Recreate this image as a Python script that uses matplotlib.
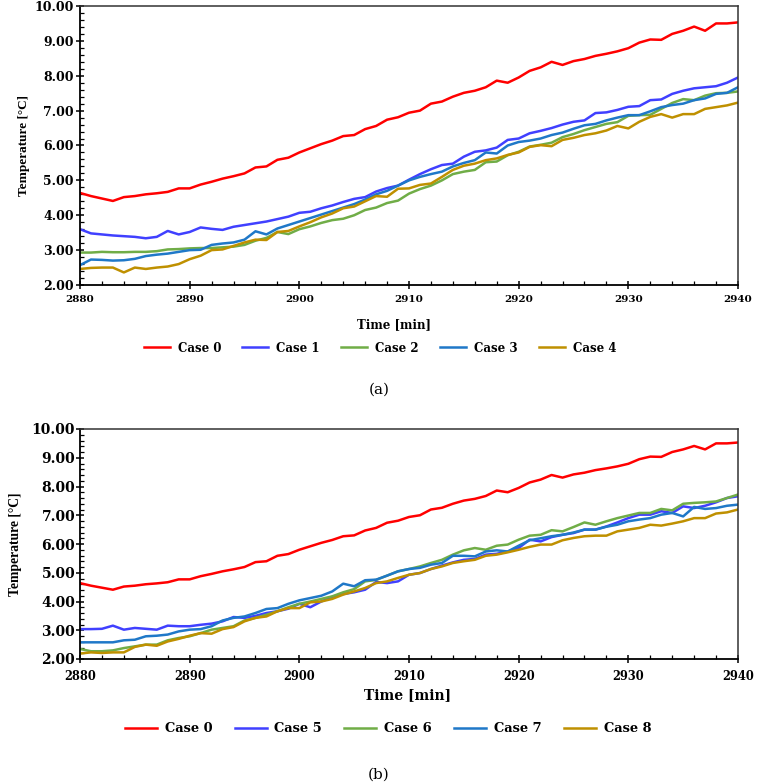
import matplotlib
matplotlib.use('Agg')
import matplotlib.pyplot as plt
from matplotlib.ticker import MultipleLocator, AutoMinorLocator, FormatStrFormatter


minutes = list(range(2880, 2941))

# panel (a)
case0 = [4.64, 4.55, 4.48, 4.41, 4.52, 4.55, 4.60, 4.63, 4.67, 4.77, 4.77,
         4.88, 4.96, 5.05, 5.12, 5.20, 5.37, 5.40, 5.59, 5.65, 5.80,
         5.92, 6.04, 6.14, 6.27, 6.30, 6.47, 6.56, 6.74, 6.81, 6.94,
         7.00, 7.20, 7.26, 7.40, 7.51, 7.57, 7.67, 7.86, 7.80, 7.95,
         8.14, 8.24, 8.40, 8.31, 8.42, 8.48, 8.57, 8.63, 8.70, 8.79,
         8.95, 9.04, 9.03, 9.20, 9.29, 9.41, 9.29, 9.50, 9.50, 9.53]
case1 = [3.60, 3.48, 3.45, 3.42, 3.40, 3.38, 3.34, 3.38, 3.55, 3.45, 3.52,
         3.65, 3.61, 3.58, 3.67, 3.72, 3.77, 3.82, 3.89, 3.96, 4.07,
         4.10, 4.20, 4.28, 4.38, 4.47, 4.52, 4.68, 4.78, 4.85, 5.02,
         5.18, 5.32, 5.44, 5.48, 5.68, 5.82, 5.86, 5.94, 6.16, 6.20,
         6.35, 6.42, 6.50, 6.60, 6.68, 6.72, 6.93, 6.95, 7.02, 7.11,
         7.13, 7.30, 7.32, 7.48, 7.57, 7.64, 7.67, 7.70, 7.80, 7.95]
case2 = [2.93, 2.93, 2.95, 2.94, 2.94, 2.95, 2.95, 2.97, 3.02, 3.03, 3.05,
         3.06, 3.06, 3.08, 3.10, 3.15, 3.27, 3.35, 3.52, 3.46, 3.60,
         3.68, 3.78, 3.86, 3.90, 4.00, 4.15, 4.22, 4.35, 4.42, 4.62,
         4.75, 4.85, 5.00, 5.18, 5.25, 5.30, 5.52, 5.54, 5.72, 5.82,
         5.97, 6.02, 6.08, 6.24, 6.33, 6.44, 6.53, 6.62, 6.67, 6.85,
         6.87, 6.88, 7.05, 7.22, 7.33, 7.30, 7.43, 7.50, 7.51, 7.55]
case3 = [2.57, 2.73, 2.72, 2.70, 2.71, 2.75, 2.83, 2.87, 2.90, 2.95, 3.00,
         3.01, 3.15, 3.19, 3.22, 3.30, 3.54, 3.45, 3.62, 3.72, 3.82,
         3.92, 4.02, 4.12, 4.22, 4.32, 4.45, 4.60, 4.70, 4.85, 5.00,
         5.10, 5.18, 5.25, 5.40, 5.50, 5.58, 5.80, 5.77, 6.00, 6.10,
         6.14, 6.20, 6.30, 6.37, 6.48, 6.58, 6.62, 6.72, 6.80, 6.87,
         6.87, 6.98, 7.10, 7.16, 7.20, 7.30, 7.35, 7.48, 7.51, 7.67]
case4 = [2.46, 2.49, 2.50, 2.50, 2.36, 2.50, 2.46, 2.50, 2.53, 2.60, 2.74,
         2.84, 3.00, 3.02, 3.12, 3.22, 3.30, 3.29, 3.52, 3.55, 3.68,
         3.80, 3.94, 4.05, 4.20, 4.25, 4.40, 4.55, 4.53, 4.76, 4.77,
         4.87, 4.91, 5.10, 5.30, 5.42, 5.48, 5.58, 5.63, 5.73, 5.80,
         5.96, 6.01, 5.98, 6.16, 6.22, 6.30, 6.35, 6.43, 6.56, 6.49,
         6.68, 6.82, 6.90, 6.80, 6.90, 6.90, 7.05, 7.10, 7.15, 7.23]

# panel (b)
case5 = [3.04, 3.04, 3.05, 3.16, 3.02, 3.08, 3.05, 3.02, 3.16, 3.14, 3.14,
         3.19, 3.23, 3.31, 3.46, 3.43, 3.50, 3.60, 3.66, 3.75, 3.92,
         3.80, 4.00, 4.16, 4.26, 4.32, 4.41, 4.68, 4.64, 4.70, 4.93,
         4.99, 5.13, 5.25, 5.36, 5.45, 5.48, 5.63, 5.66, 5.74, 5.86,
         6.15, 6.09, 6.24, 6.32, 6.38, 6.50, 6.50, 6.61, 6.75, 6.90,
         7.02, 7.02, 7.14, 7.08, 7.31, 7.25, 7.33, 7.45, 7.60, 7.66]
case6 = [2.35, 2.27, 2.27, 2.30, 2.38, 2.44, 2.50, 2.50, 2.65, 2.73, 2.79,
         2.90, 3.02, 3.08, 3.14, 3.34, 3.43, 3.54, 3.66, 3.80, 3.92,
         4.00, 4.09, 4.18, 4.32, 4.43, 4.70, 4.75, 4.90, 5.05, 5.13,
         5.22, 5.34, 5.45, 5.63, 5.78, 5.86, 5.80, 5.94, 5.98, 6.15,
         6.29, 6.32, 6.48, 6.44, 6.59, 6.75, 6.67, 6.79, 6.90, 6.99,
         7.08, 7.08, 7.22, 7.17, 7.40, 7.43, 7.45, 7.48, 7.60, 7.72]
case7 = [2.58, 2.58, 2.58, 2.58, 2.65, 2.67, 2.79, 2.81, 2.85, 2.96, 3.02,
         3.04, 3.14, 3.34, 3.43, 3.48, 3.60, 3.74, 3.77, 3.92, 4.04,
         4.12, 4.20, 4.35, 4.62, 4.53, 4.74, 4.76, 4.90, 5.05, 5.13,
         5.17, 5.28, 5.34, 5.59, 5.59, 5.57, 5.74, 5.78, 5.74, 5.94,
         6.13, 6.20, 6.27, 6.32, 6.40, 6.50, 6.50, 6.60, 6.67, 6.79,
         6.85, 6.90, 7.02, 7.08, 6.96, 7.29, 7.22, 7.25, 7.33, 7.37]
case8 = [2.19, 2.23, 2.21, 2.23, 2.23, 2.42, 2.50, 2.46, 2.61, 2.70, 2.81,
         2.90, 2.88, 3.04, 3.11, 3.31, 3.43, 3.48, 3.66, 3.77, 3.77,
         3.97, 4.00, 4.09, 4.24, 4.35, 4.47, 4.64, 4.70, 4.82, 4.93,
         4.99, 5.13, 5.22, 5.34, 5.40, 5.45, 5.59, 5.63, 5.71, 5.80,
         5.90, 5.98, 5.98, 6.13, 6.21, 6.27, 6.29, 6.29, 6.44, 6.50,
         6.56, 6.67, 6.64, 6.71, 6.79, 6.90, 6.90, 7.06, 7.10, 7.20]

labels_a = ['Case 0', 'Case 1', 'Case 2', 'Case 3', 'Case 4']
labels_b = ['Case 0', 'Case 5', 'Case 6', 'Case 7', 'Case 8']
colors = ['#ff0000', '#4040ff', '#70ad47', '#1f78c8', '#bf9000']

W, H = 758, 784

plt.rcParams['font.family'] = 'DejaVu Serif'
plt.rcParams['font.weight'] = 'bold'


def draw_panel(ax, series, labels, xtick_size, ytick_size, xpad, ypad):
    lines = []
    for values, label, color in zip(series, labels, colors):
        line, = ax.plot(minutes, values, color=color, lw=1.8, label=label)
        lines.append(line)
    ax.set_xlim(2880, 2940)
    ax.set_ylim(2, 10)
    ax.xaxis.set_major_locator(MultipleLocator(10))
    ax.xaxis.set_minor_locator(MultipleLocator(2))
    ax.yaxis.set_major_locator(MultipleLocator(1))
    ax.yaxis.set_minor_locator(AutoMinorLocator(5))
    ax.yaxis.set_major_formatter(FormatStrFormatter('%.2f'))
    ax.tick_params(which='major', direction='inout', length=6, width=1.1)
    ax.tick_params(which='minor', direction='in', length=3, width=0.9)
    ax.tick_params(axis='x', labelsize=xtick_size, pad=xpad)
    ax.tick_params(axis='y', labelsize=ytick_size, pad=ypad)
    for side in ['left', 'bottom']:
        ax.spines[side].set_linewidth(1.3)
    for side in ['top', 'right']:
        ax.spines[side].set_linewidth(1.1)
        ax.spines[side].set_color('#333333')
    return lines


fig = plt.figure(figsize=(W / 100, H / 100), dpi=100)

# (a)
ax_a = fig.add_axes([80 / W, 1 - 285 / H, 658 / W, 279 / H])
lines_a = draw_panel(ax_a, [case0, case1, case2, case3, case4], labels_a, 7.5, 9, 4.5, 1.5)
fig.text(24 / W, 1 - 146 / H, 'Temperature [°C]', rotation=90, ha='center', va='center',
         family='Liberation Serif', weight='bold', size=9.5)
fig.text(394 / W, 1 - 325 / H, 'Time [min]', ha='center', va='center', size=8.5)
fig.legend(lines_a, labels_a, loc='center', bbox_to_anchor=(380 / W, 1 - 348 / H), ncol=5,
           frameon=False, fontsize=8.5, handlelength=2.2, handletextpad=0.68, columnspacing=1.8)
fig.text(379 / W, 1 - 390 / H, '(a)', ha='center', va='center', weight='normal', size=11)

# (b)
ax_b = fig.add_axes([80 / W, 1 - 659 / H, 658 / W, 230 / H])
lines_b = draw_panel(ax_b, [case0, case5, case6, case7, case8], labels_b, 8.3, 10, 5, 0.5)
fig.text(15 / W, 1 - 544 / H, 'Temperature [°C]', rotation=90, ha='center', va='center',
         family='Liberation Serif', weight='bold', size=9.8)
fig.text(408 / W, 1 - 695 / H, 'Time [min]', ha='center', va='center', size=10)
fig.legend(lines_b, labels_b, loc='center', bbox_to_anchor=(388 / W, 1 - 729 / H), ncol=5,
           frameon=False, fontsize=9.4, handlelength=2.45, handletextpad=0.6, columnspacing=1.7)
fig.text(379 / W, 1 - 775 / H, '(b)', ha='center', va='center', weight='normal', size=11)

fig.savefig('out.png', dpi=100)
